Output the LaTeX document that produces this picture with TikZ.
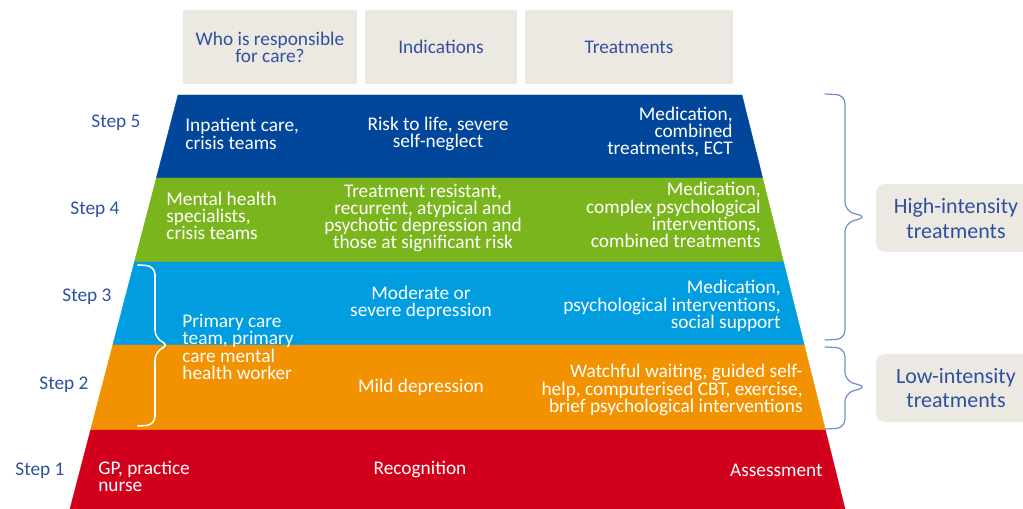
\documentclass[tikz,border=0pt]{standalone}
\usepackage{fontspec}
\setmainfont{Carlito}
\usepackage{tikz}
\usetikzlibrary{positioning}
\definecolor{headfill}{HTML}{ECE9E2}
\definecolor{labelblue}{HTML}{30509F}
\definecolor{bracegray}{HTML}{7391C6}
\definecolor{stepfive}{HTML}{00479B}
\definecolor{stepfour}{HTML}{7AB51D}
\definecolor{stepthree}{HTML}{009EE0}
\definecolor{steptwo}{HTML}{F39200}
\definecolor{stepone}{HTML}{D2001C}

\begin{document}
\begin{tikzpicture}[x=0.02cm, y=-0.02cm,
		head/.style={fill=headfill, text=labelblue, align=center, minimum height=1.5cm, inner sep=0pt, font=\fontsize{11}{9.8}\selectfont},
		steplabel/.style={text=labelblue, inner sep=0pt, font=\fontsize{11}{9.8}\selectfont},
		bandtext/.style={text=white, inner sep=0pt, font=\fontsize{11}{9.8}\selectfont},
		kind/.style={fill=headfill, rounded corners=5pt, text=labelblue, align=center, inner sep=0pt, minimum height=1.36cm, font=\fontsize{12.5}{14.2}\selectfont},
		bracket/.style={line cap=round, line join=round, rounded corners=5pt}]
		\useasboundingbox (0,0) rectangle (1023,509);
		
		\node [head, minimum width=3.5cm] (who) at (270,47) {Who is responsible\\for care?};
		\node [head, minimum width=3.04cm] (ind) at (441,47) {Indications};
		\node [head, minimum width=4.16cm] (treat) at (629,47) {Treatments};
		
		\foreach \y [count=\i from 0] in {95,178,262,345,430,509}{
			\coordinate (l\i) at ({178-0.261*(\y-95)},\y);
			\coordinate (r\i) at ({742+0.249*(\y-95)},\y);
		}
		\foreach \i/\j/\c in {0/1/stepfive, 1/2/stepfour, 2/3/stepthree, 3/4/steptwo, 4/5/stepone}{
			\filldraw [\c, line width=0.2pt] (l\i) -- (r\i) -- (r\j) -- (l\j) -- cycle;
		}
		
		\node [steplabel] (s5) at (116,123) {Step 5};
		\node [steplabel] (s4) at (95,210) {Step 4};
		\node [steplabel] (s3) at (87,297) {Step 3};
		\node [steplabel] (s2) at (64,385) {Step 2};
		\node [steplabel] (s1) at (40,471) {Step 1};
		
		\node [bandtext, align=left, anchor=west] (who5) at (185,134) {Inpatient care,\\crisis teams};
		\node [bandtext, align=center] (ind5) at (438,134) {Risk to life, severe\\self-neglect};
		\node [bandtext, align=right, anchor=east] (treat5) at (733,132) {Medication,\\combined\\treatments, ECT};
		
		\node [bandtext, align=left, anchor=west] (who4) at (166,216) {Mental health\\specialists,\\crisis teams};
		\node [bandtext, align=center] (ind4) at (423,218) {Treatment resistant,\\recurrent, atypical and\\psychotic depression and\\those at significant risk};
		\node [bandtext, align=right, anchor=east] (treat4) at (761,215) {Medication,\\complex psychological\\interventions,\\combined treatments};
		
		\node [bandtext, align=center] (ind3) at (421,303) {Moderate or\\severe depression};
		\node [bandtext, align=right, anchor=east] (treat3) at (781,306) {Medication,\\psychological interventions,\\social support};
		\node [bandtext, align=left, anchor=west] (who32) at (182,347) {Primary care\\team, primary\\care mental\\health worker};
		
		\node [bandtext] (ind2) at (421,387) {Mild depression};
		\node [bandtext, align=right, anchor=east] (treat2) at (803,390) {Watchful waiting, guided self-\\help, computerised CBT, exercise,\\brief psychological interventions};
		
		\node [bandtext, align=left, anchor=west] (who1) at (98,476) {GP, practice\\nurse};
		\node [bandtext] (ind1) at (420,469) {Recognition};
		\node [bandtext, anchor=east] (treat1) at (823,470) {Assessment};
		
		\draw [bracket, white, line width=0.9pt] (138,265) -- (155,266) -- (155,339) -- (170,345) -- (155,351) -- (155,425) -- (138,426);
		\draw [bracket, bracegray, line width=0.7pt] (825,94) -- (845,95) -- (845,211) -- (867,217) -- (845,223) -- (845,339) -- (825,340);
		\draw [bracket, bracegray, line width=0.7pt] (825,347) -- (845,348) -- (845,381) -- (867,387) -- (845,393) -- (845,428) -- (825,429);
		
		\node [kind, minimum width=3.2cm] (high) at (956,218) {High-intensity\\treatments};
		\node [kind, minimum width=3.2cm] (low) at (956,388) {Low-intensity\\treatments};
\end{tikzpicture}
\end{document}
